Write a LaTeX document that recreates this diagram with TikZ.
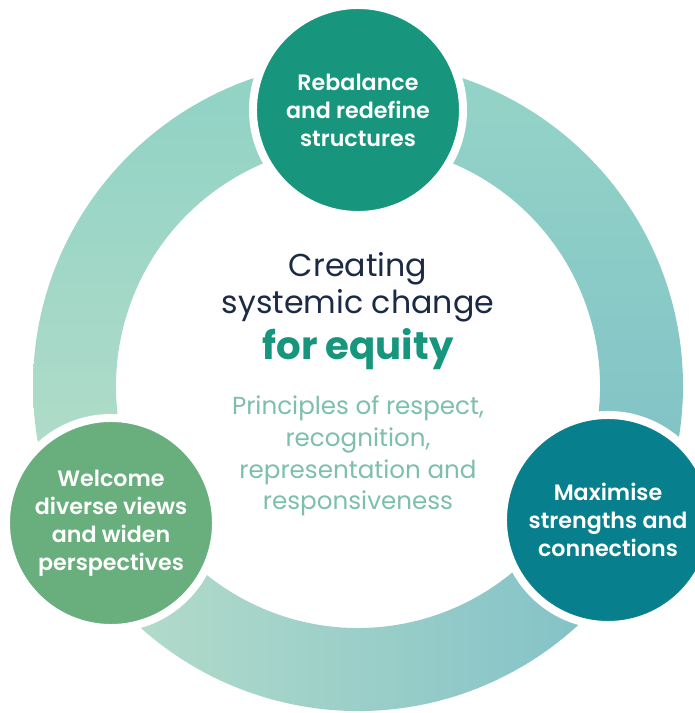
\documentclass[tikz,border=0pt]{standalone}
\usepackage{fontspec}
\setmainfont{Poppins}
\newfontfamily\semib{Poppins SemiBold}
\usepackage{tikz}

\definecolor{rebal}{HTML}{17967D}
\definecolor{welcome}{HTML}{69AF7D}
\definecolor{maxim}{HTML}{087F8C}
\definecolor{navy}{HTML}{1B2A45}
\definecolor{principle}{HTML}{7DBFAE}
\definecolor{ringtop}{HTML}{8FD2C4}
\definecolor{ringleft}{HTML}{B8DECA}
\definecolor{ringright}{HTML}{7EBFC7}

\begin{document}
\begin{tikzpicture}[x=0.025cm,y=0.025cm]
  \tikzstyle{bubble} = [circle, minimum size=5.25cm, inner sep=0pt, draw=white, line width=2mm, text=white, align=center, font=\fontsize{15.8}{19.9}\selectfont\semib]

  \clip (0,0) rectangle (695,713);
  \fill[white] (0,0) rectangle (695,713);
  \coordinate (C) at (358,327);

  % the ring, in three shaded pieces
  \shade[top color=ringtop, bottom color=ringleft] (C) ++(90:325) arc[start angle=90, end angle=209, radius=325] -- ++(209:-83) arc[start angle=209, end angle=90, radius=242] -- cycle;
  \shade[top color=ringtop!95!white, bottom color=ringright] (C) ++(90:325) arc[start angle=90, end angle=-28, radius=325] -- ++(-28:-83) arc[start angle=-28, end angle=90, radius=242] -- cycle;
  \shade[left color=ringleft, right color=ringright] (C) ++(209:325) arc[start angle=209, end angle=332, radius=325] -- ++(332:-83) arc[start angle=332, end angle=209, radius=242] -- cycle;

  % the three principles
  \node (Rb) [bubble, fill=rebal] at (358,603) {Rebalance\\and redefine\\structures};
  \node (Wv) [bubble, fill=welcome] at (111,190) {Welcome\\diverse views\\and widen\\perspectives};
  \node (Mx) [bubble, fill=maxim] at (608,193) {Maximise\\strengths and\\connections};

  % centre text
  \node (Ttl) [align=center, text=navy, font=\fontsize{22.5}{26.3}\selectfont] at (358,426) {Creating\\systemic change};
  \node (Eq) [text=rebal, font=\fontsize{27.5}{30}\selectfont\bfseries] at (358,364) {for equity};
  \node (Pr) [align=center, text=principle, font=\fontsize{17.5}{22.5}\selectfont] at (358,257) {Principles of respect,\\recognition,\\representation and\\responsiveness};
\end{tikzpicture}
\end{document}
